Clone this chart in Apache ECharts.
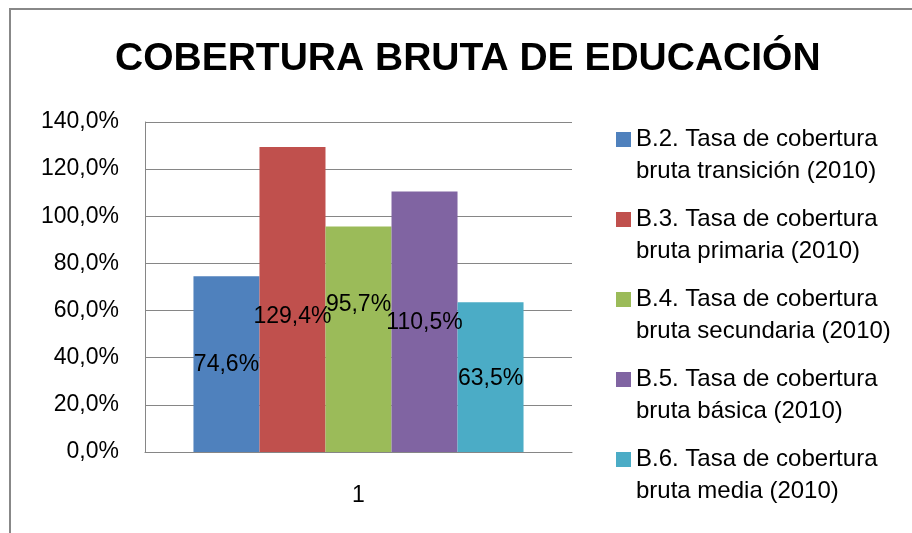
<!DOCTYPE html>
<html>
<head>
<meta charset="utf-8">
<script src="https://cdn.jsdelivr.net/npm/echarts@6/dist/echarts.min.js"></script>
<style>
  html, body { margin: 0; padding: 0; background: #fff; }
  #chart { width: 912px; height: 533px; }
</style>
</head>
<body>
<div id="chart"></div>
<script>
const categories = ['1'];
const seriesNames = [
  'B.2. Tasa de cobertura bruta transición (2010)',
  'B.3. Tasa de cobertura bruta primaria (2010)',
  'B.4. Tasa de cobertura bruta secundaria (2010)',
  'B.5. Tasa de cobertura bruta básica (2010)',
  'B.6. Tasa de cobertura bruta media (2010)'
];
const seriesValues = [74.6, 129.4, 95.7, 110.5, 63.5];
const yTicks = [0, 20, 40, 60, 80, 100, 120, 140];

const colors = ['#4F81BD', '#C0504D', '#9BBB59', '#8064A2', '#4BACC6'];
// labels in the original were nudged by hand
const labelOffsets = [[0, 1], [0, 17], [0, -35], [0, 1], [0, 1]];

const font = '"Liberation Sans", Arial, sans-serif';
const fmt = v => v.toFixed(1).replace('.', ',') + '%';

const chart = echarts.init(document.getElementById('chart'));

const series = seriesNames.map((name, i) => ({
  name: name,
  type: 'bar',
  data: [seriesValues[i]],
  barGap: '0%',
  barCategoryGap: '22.7%',
  itemStyle: { color: colors[i] },
  label: {
    show: true,
    position: 'inside',
    offset: labelOffsets[i],
    color: '#000',
    fontFamily: font,
    fontSize: 23,
    formatter: p => fmt(p.value)
  }
}));

const option = {
  animation: false,
  textStyle: { fontFamily: font },
  title: {
    text: 'COBERTURA BRUTA DE EDUCACIÓN',
    left: 115,
    top: 40,
    padding: 0,
    textStyle: { fontFamily: font, fontSize: 39, fontWeight: 'bold', color: '#000' }
  },
  graphic: [{
    type: 'rect',
    z: -1,
    shape: { x: 10, y: 9, width: 1000, height: 1000 },
    style: { fill: 'none', stroke: '#888', lineWidth: 2 }
  }],
  grid: { left: 145, top: 122, right: 340, bottom: 81, containLabel: false },
  legend: {
    orient: 'vertical',
    left: 616,
    top: 123,
    padding: 0,
    itemGap: 16,
    itemWidth: 15,
    itemHeight: 46,
    icon: 'path://M0,0L15,0L15,15L0,15Z M0,46L0,46',
    formatter: name => {
      const k = name.indexOf(' bruta');
      return name.slice(0, k) + '\n' + name.slice(k + 1);
    },
    textStyle: { fontFamily: font, fontSize: 24, lineHeight: 32, color: '#000' },
    data: seriesNames
  },
  xAxis: {
    type: 'category',
    data: categories,
    axisLine: { lineStyle: { color: '#868686', width: 1 } },
    axisTick: { show: false },
    axisLabel: { color: '#000', fontSize: 23, fontFamily: font, margin: 32 }
  },
  yAxis: {
    type: 'value',
    min: yTicks[0],
    max: yTicks[yTicks.length - 1],
    interval: 20,
    axisLine: { show: true, lineStyle: { color: '#868686', width: 1 } },
    axisTick: { show: false },
    splitLine: { lineStyle: { color: '#868686', width: 1 } },
    axisLabel: {
      color: '#000', fontSize: 23, fontFamily: font, margin: 26,
      formatter: v => fmt(v)
    }
  },
  series: series
};

chart.setOption(option);
</script>
</body>
</html>
